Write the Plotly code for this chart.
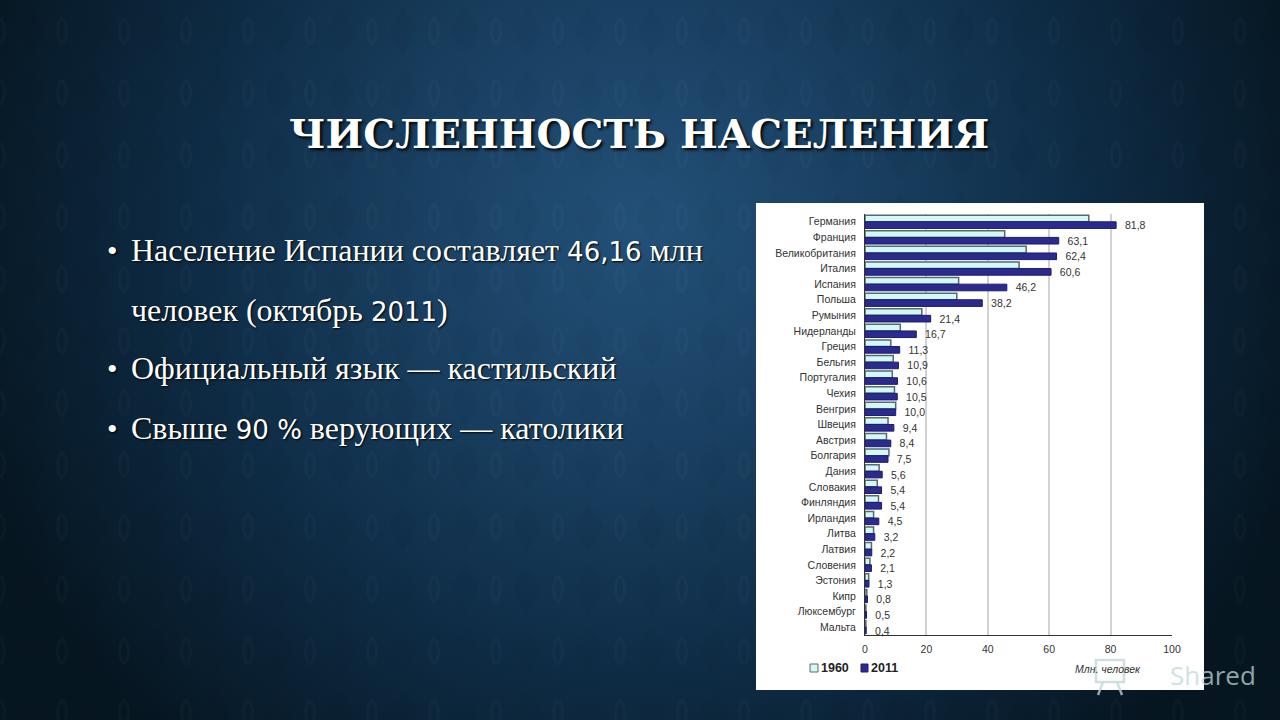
import urllib.parse
import plotly.graph_objects as go

# chart values
countries = ['Германия', 'Франция', 'Великобритания', 'Италия', 'Испания', 'Польша', 'Румыния',
             'Нидерланды', 'Греция', 'Бельгия', 'Португалия', 'Чехия', 'Венгрия', 'Швеция',
             'Австрия', 'Болгария', 'Дания', 'Словакия', 'Финляндия', 'Ирландия', 'Литва',
             'Латвия', 'Словения', 'Эстония', 'Кипр', 'Люксембург', 'Мальта']
pop_1960 = [72.9, 45.5, 52.5, 50.2, 30.5, 29.9, 18.5, 11.5, 8.4, 9.2, 8.9, 9.6, 10.0, 7.5,
            7.0, 7.8, 4.6, 4.0, 4.4, 2.8, 2.8, 2.1, 1.6, 1.2, 0.6, 0.3, 0.3]
pop_2011 = [81.8, 63.1, 62.4, 60.6, 46.2, 38.2, 21.4, 16.7, 11.3, 10.9, 10.6, 10.5, 10.0, 9.4,
            8.4, 7.5, 5.6, 5.4, 5.4, 4.5, 3.2, 2.2, 2.1, 1.3, 0.8, 0.5, 0.4]
x_ticks = [0, 20, 40, 60, 80, 100]

title = 'ЧИСЛЕННОСТЬ НАСЕЛЕНИЯ'
digit = '<span style="font-family:DejaVu Sans;font-size:26px">%s</span>'
bullets = [
    ('Население Испании составляет ' + digit % '46,16' + ' млн', 250, True),
    ('человек (октябрь ' + digit % '2011' + ')', 310, False),
    ('Официальный язык — кастильский', 368, True),
    ('Свыше ' + digit % '90 %' + ' верующих — католики', 428, True),
]

W, H = 1280, 720
COLOR_1960 = '#d2f8f8'
COLOR_2011 = '#2b2b8e'


def px(x):
    return x / W


def py(y):
    return 1 - y / H


def label(text, x, y, font, xanchor='center'):
    fig.add_annotation(text=text, xref='paper', yref='paper', x=px(x), y=py(y), xanchor=xanchor,
                       yanchor='middle', showarrow=False, font=font)


# slide background, radial glow with a faint damask-like lattice
svg = '''<svg xmlns="http://www.w3.org/2000/svg" width="1280" height="720">
<defs>
<radialGradient id="g" gradientUnits="userSpaceOnUse" cx="640" cy="225" r="700">
<stop offset="0" stop-color="#235078"/><stop offset="0.3" stop-color="#1a4163"/>
<stop offset="0.65" stop-color="#0e2b44"/><stop offset="1" stop-color="#061621"/>
</radialGradient>
<pattern id="p" width="62" height="62" patternUnits="userSpaceOnUse">
<path d="M31 6 C38 18 44 24 44 31 C44 38 38 44 31 56 C24 44 18 38 18 31 C18 24 24 18 31 6 Z" fill="#000000" fill-opacity="0.03"/>
<path d="M0 18 C6 24 6 38 0 44 M62 18 C56 24 56 38 62 44" fill="none" stroke="#ffffff" stroke-opacity="0.02" stroke-width="3"/>
</pattern>
</defs>
<rect width="1280" height="720" fill="url(#g)"/>
<rect width="1280" height="720" fill="url(#p)"/>
</svg>'''
bg_src = 'data:image/svg+xml;charset=utf-8,' + urllib.parse.quote(svg)

fig = go.Figure()
fig.add_trace(go.Bar(y=countries, x=pop_1960, orientation='h', name='1960',
                     marker=dict(color=COLOR_1960, line=dict(color='#5a6a6a', width=1.5))))
fig.add_trace(go.Bar(y=countries, x=pop_2011, orientation='h', name='2011',
                     marker=dict(color=COLOR_2011, line=dict(color='#1c1c70', width=1)),
                     text=['  ' + str(v).replace('.', ',') for v in pop_2011],
                     textposition='outside', cliponaxis=False, constraintext='none',
                     textfont=dict(family='Liberation Sans', size=10.5, color='#333333')))

wm = 'rgba(190,215,215,0.75)'
fig.update_layout(
    width=W, height=H, margin=dict(l=0, r=0, t=0, b=0, autoexpand=False),
    paper_bgcolor='#061621', plot_bgcolor='rgba(0,0,0,0)',
    barmode='group', bargap=0.15, bargroupgap=0, showlegend=False,
    font=dict(family='Liberation Sans', size=10.5, color='#333333'),
    xaxis=dict(domain=[px(865), px(1172)], range=[0, 100], tickvals=x_ticks, showgrid=True,
               gridcolor='#d2d2d2', gridwidth=2, zeroline=False, showline=True,
               linecolor='#333333', linewidth=1, ticks='', ticklabelstandoff=4, automargin=False,
               tickfont=dict(size=10.5, color='#333333')),
    yaxis=dict(domain=[py(635), py(214)], autorange='reversed', showline=True, linecolor='#333333',
               linewidth=1, showgrid=False, ticks='', ticklabelstandoff=6, automargin=False,
               tickfont=dict(size=10.5, color='#333333')),
    images=[dict(source=bg_src, xref='paper', yref='paper', x=0, y=1, sizex=1, sizey=1,
                 sizing='stretch', layer='below')],
    shapes=[
        dict(type='rect', xref='paper', yref='paper', x0=px(756), x1=px(1204), y0=py(690),
             y1=py(203), fillcolor='white', line=dict(width=0), layer='below'),
        # legend swatches
        dict(type='rect', xref='paper', yref='paper', x0=px(810), x1=px(818), y0=py(672), y1=py(664),
             fillcolor=COLOR_1960, line=dict(color='#5a6a6a', width=1)),
        dict(type='rect', xref='paper', yref='paper', x0=px(861), x1=px(868), y0=py(672), y1=py(664),
             fillcolor=COLOR_2011, line=dict(color='#1c1c70', width=1)),
        # watermark icon
        dict(type='rect', xref='paper', yref='paper', x0=px(1096), x1=px(1124), y0=py(682), y1=py(660),
             fillcolor='rgba(0,0,0,0)', line=dict(color=wm, width=2.5)),
        dict(type='line', xref='paper', yref='paper', x0=px(1103), x1=px(1098), y0=py(682), y1=py(695),
             line=dict(color=wm, width=2.5)),
        dict(type='line', xref='paper', yref='paper', x0=px(1117), x1=px(1122), y0=py(682), y1=py(695),
             line=dict(color=wm, width=2.5)),
    ],
)

label(title, 639, 133, dict(family='DejaVu Serif', size=40, color='white', weight='bold',
                            shadow='2px 2px 3px #000000'))

for text, y, has_bullet in bullets:
    label(text, 128.5, y, dict(family='Liberation Serif', size=32, color='white',
                               shadow='1px 1px 2px #000000'), xanchor='left')
    if has_bullet:
        label('•', 112, y, dict(family='Liberation Serif', size=30, color='white',
                                shadow='1px 1px 2px #000000'))

legend_font = dict(family='Liberation Sans', size=12.5, color='#222222', weight='bold')
label('1960', 819, 668, legend_font, xanchor='left')
label('2011', 869, 668, legend_font, xanchor='left')
label('<i>Млн. человек</i>', 1108, 669, dict(size=10.5, color='#333333'))
# watermark in the corner
label('Shared', 1213, 675, dict(family='Open Sans', size=26, color=wm))

fig.write_html('out.html', config={'displayModeBar': False},
               post_script="document.body.style.margin='0';document.body.style.overflow='hidden';")
